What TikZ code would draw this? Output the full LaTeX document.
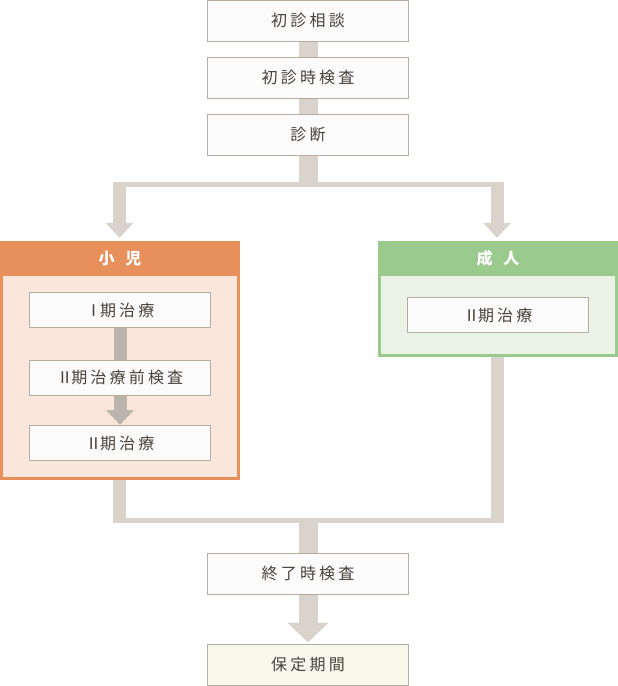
\documentclass[tikz,border=0pt]{standalone}
\usepackage{fontspec}
\usepackage{tikz}
\newfontfamily\jpfont[LetterSpace=20]{Noto Sans CJK JP}
\newfontfamily\jpheadfont[LetterSpace=8,WordSpace=2.2]{Noto Sans CJK JP}
\definecolor{bar}{RGB}{217,211,203}
\definecolor{innerbar}{RGB}{186,180,170}
\definecolor{boxline}{RGB}{180,172,162}
\definecolor{boxfill}{RGB}{251,251,251}
\definecolor{txt}{RGB}{74,66,58}
\definecolor{childhead}{RGB}{232,144,91}
\definecolor{childbg}{RGB}{251,230,219}
\definecolor{adulthead}{RGB}{154,202,141}
\definecolor{adultbg}{RGB}{234,243,230}
\definecolor{keepfill}{RGB}{247,247,234}
\usetikzlibrary{arrows.meta,backgrounds}

\begin{document}
\begin{tikzpicture}[x=1pt,y=-1pt,
        stepbox/.style={draw=boxline, fill=boxfill, line width=1pt, inner sep=0pt,
            minimum width=201pt, minimum height=41pt, text=txt,
            font=\jpfont\fontsize{16}{19}\selectfont},
        innerbox/.style={stepbox, minimum width=181pt, minimum height=35pt},
        groupbox/.style={line width=3pt, minimum width=237pt, inner sep=0pt},
        headbox/.style={minimum width=240pt, minimum height=35pt, inner sep=0pt,
            text=white, font=\jpheadfont\bfseries\fontsize{16}{19}\selectfont},
        bar/.style={draw=bar},
        headsmall/.style={-{Triangle[width=27pt,length=15pt]}},
        headbig/.style={-{Triangle[width=40pt,length=20pt]}}]
        \useasboundingbox (0,0) rectangle (618,686);

        % common steps
        \node[stepbox] (consult) at (308,20.5) {初診相談};
        \node[stepbox] (exam1) at (308,77.5) {初診時検査};
        \node[stepbox] (diag) at (308,134.5) {診断};

        % child
        \node[groupbox, draw=childhead, fill=childbg, minimum height=236pt] (child) at (120,360.5) {};
        \node[headbox, fill=childhead] (childtitle) at (120,258.5) {小 児};
        \node[innerbox] (ph1) at (120,310) {Ⅰ\kern-1.5pt期治療};
        \node[innerbox] (pre2) at (120,377.5) {Ⅱ\kern-1.5pt期治療前検査};
        \node[innerbox] (ph2c) at (120,443) {Ⅱ\kern-1.5pt期治療};
        \draw[draw=innerbar, line width=13pt] (ph1.south) -- (pre2.north);
        \draw[draw=innerbar, line width=13pt, headsmall] (pre2.south) -- (ph2c.north);

        % adult
        \node[groupbox, draw=adulthead, fill=adultbg, minimum height=113pt] (adult) at (498,299) {};
        \node[headbox, fill=adulthead] (adulttitle) at (498,258.5) {成 人};
        \node[innerbox] (ph2a) at (498,315) {Ⅱ\kern-1.5pt期治療};

        % end
        \node[stepbox] (endexam) at (308,573.5) {終了時検査};
        \node[stepbox, fill=keepfill] (keep) at (308,664.5) {保定期間};

        \coordinate (split) at (308,184.5);
        \coordinate (splitL) at (119.5,184.5);
        \coordinate (splitR) at (497,184.5);
        \coordinate (merge) at (308,520);
        \coordinate (mergeL) at (119.5,520);
        \coordinate (mergeR) at (497,520);

        \begin{pgfonlayer}{background}
            \draw[bar, line width=19pt] (consult) -- (exam1) -- (diag) -- (split);
            \draw[bar, line width=5pt] ([xshift=-6.5pt]splitL) -- ([xshift=6.5pt]splitR);
            \draw[bar, line width=13pt, headsmall] ([yshift=2.5pt]splitL) -- ([yshift=3pt]splitL |- childtitle.north);
            \draw[bar, line width=13pt, headsmall] ([yshift=2.5pt]splitR) -- ([yshift=3pt]splitR |- adulttitle.north);

            \draw[bar, line width=13pt] (mergeL |- child.south) -- ([yshift=-2.5pt]mergeL);
            \draw[bar, line width=13pt] (mergeR |- adult.south) -- ([yshift=-2.5pt]mergeR);
            \draw[bar, line width=5pt] ([xshift=-6.5pt]mergeL) -- ([xshift=6.5pt]mergeR);
            \draw[bar, line width=19pt] (merge) -- (endexam);
            \draw[bar, line width=19pt, headbig] (endexam) -- ([yshift=1pt]keep.north);
        \end{pgfonlayer}
    \end{tikzpicture}
\end{document}
